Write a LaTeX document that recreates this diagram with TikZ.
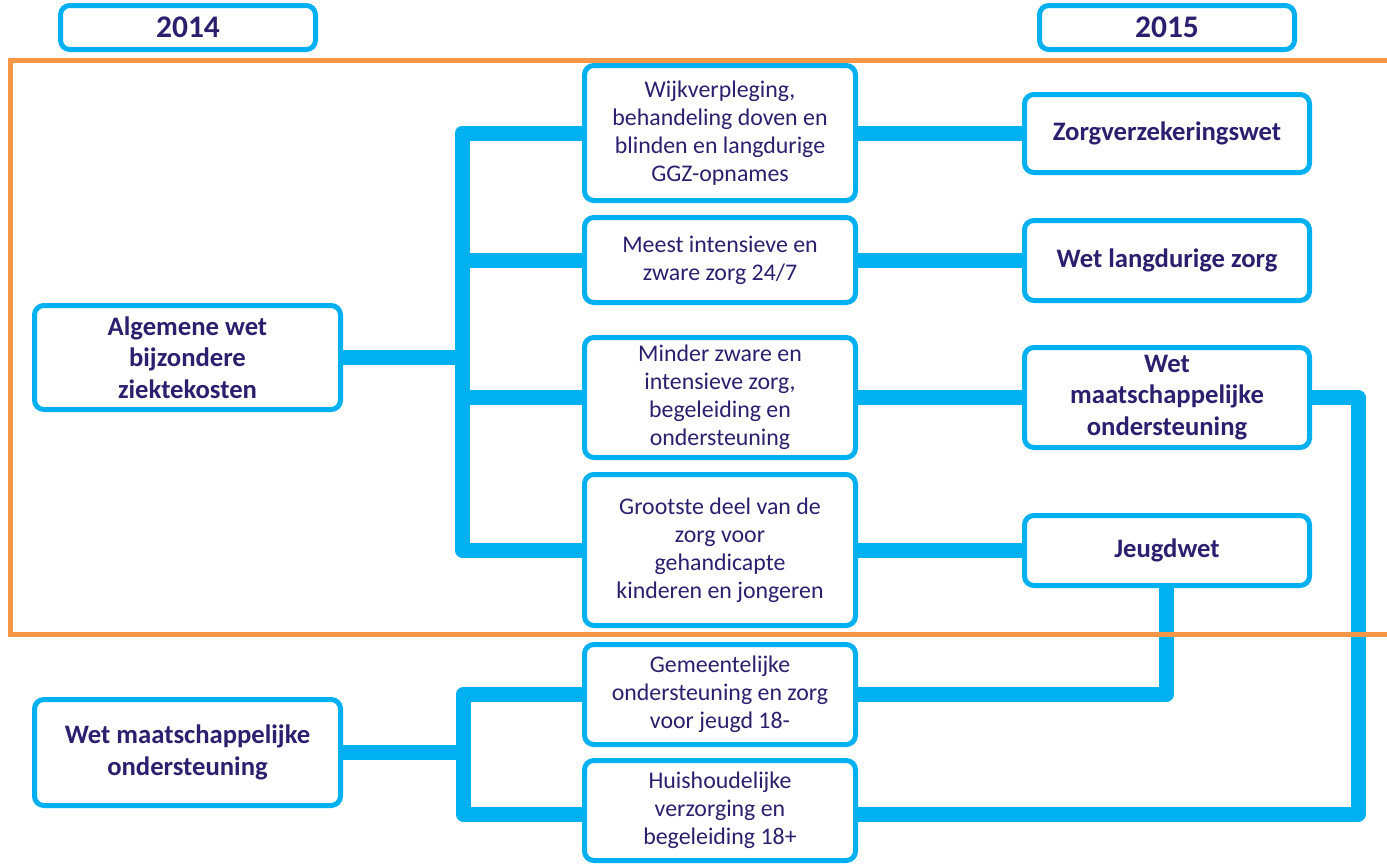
\documentclass[tikz,border=0pt]{standalone}
\usepackage{fontspec}
\setmainfont{Carlito}
\definecolor{cyanb}{RGB}{0,176,240}
\definecolor{navy}{RGB}{43,31,110}
\definecolor{orangeb}{RGB}{247,150,70}
\pgfdeclarelayer{background}
\pgfsetlayers{background,main}
\begin{document}
\begin{tikzpicture}[x=0.75pt,y=-0.75pt,
  box/.style={draw=cyanb, line width=3.75pt, rounded corners=7pt, fill=white, align=center, inner sep=0pt, text=navy},
  bodybox/.style={box, font=\fontsize{17.9}{21}\selectfont},
  boldbox/.style={box, font=\bfseries\fontsize{20}{23.75}\selectfont},
  yearbox/.style={box, font=\bfseries\fontsize{23.6}{27}\selectfont, minimum width=191.25pt, minimum height=33pt},
  midbox/.style={bodybox, minimum width=203.25pt},
  rightbox/.style={boldbox, minimum width=213.75pt},
  leftbox/.style={boldbox, minimum width=229.5pt},
  conn/.style={draw=cyanb, line width=11.25pt, line join=round},
  frame/.style={draw=orangeb, line width=3.75pt}]
\useasboundingbox (0,0) rectangle (1387,865);

% coordinates for trunks and frame
\coordinate (tA) at (462,133);
\coordinate (tB) at (462,550);
\coordinate (uA) at (463,694.5);
\coordinate (uB) at (463,814);
\coordinate (rB) at (1358,814);
\coordinate (jB) at (1166,694.5);
\coordinate (fTR) at (1387,60);
\coordinate (fTL) at (10,60);
\coordinate (fBL) at (10,634);
\coordinate (fBR) at (1387,634);

% nodes
\node[yearbox] (y14) at (188,27.5) {2014};
\node[yearbox] (y15) at (1167,27.5) {2015};

\node[leftbox, minimum height=78pt] (alg) at (187.5,357.5) {Algemene wet\\bijzondere\\ziektekosten};
\node[leftbox, minimum height=79.5pt] (wmo14) at (187.5,752.5) {Wet maatschappelijke\\ondersteuning};

\node[midbox, minimum height=101.25pt] (m1) at (720,133) {Wijkverpleging,\\behandeling doven en\\blinden en langdurige\\GGZ-opnames};
\node[midbox, minimum height=63.75pt] (m2) at (720,260) {Meest intensieve en\\zware zorg 24/7};
\node[midbox, minimum height=90pt] (m3) at (720,397.5) {Minder zware en\\intensieve zorg,\\begeleiding en\\ondersteuning};
\node[midbox, minimum height=113.25pt] (m4) at (720,550) {Grootste deel van de\\zorg voor\\gehandicapte\\kinderen en jongeren};
\node[midbox, minimum height=75pt] (m5) at (720,694.5) {Gemeentelijke\\ondersteuning en zorg\\voor jeugd 18-};
\node[midbox, minimum height=75pt] (m6) at (720,810.5) {Huishoudelijke\\verzorging en\\begeleiding 18+};

\node[rightbox, minimum height=58.5pt] (r1) at (1167,133.5) {Zorgverzekeringswet};
\node[rightbox, minimum height=60pt] (r2) at (1167,260.5) {Wet langdurige zorg};
\node[rightbox, minimum height=75pt] (r3) at (1167,397.5) {Wet\\maatschappelijke\\ondersteuning};
\node[rightbox, minimum height=52.5pt] (r4) at (1167,550.5) {Jeugdwet};

% connectors behind the boxes
\begin{pgfonlayer}{background}
  \draw[conn] (m1.west) -- (tA) -- (tB) -- (m4.west);
  \draw[conn] (m2.west) -- (m2.west -| tA);
  \draw[conn] (m3.west) -- (m3.west -| tA);
  \draw[conn] (alg.east) -- (alg.east -| tA);
  \draw[conn] (m1.east) -- (r1.west |- m1.east);
  \draw[conn] (m2.east) -- (r2.west |- m2.east);
  \draw[conn] (m3.east) -- (r3.west);
  \draw[conn] (m4.east) -- (r4.west |- m4.east);
  \draw[conn] (r3.east) -- (r3.east -| rB) -- (rB) -- (m6.east |- rB);
  \draw[conn] (r4.south -| jB) -- (jB) -- (m5.east |- jB);
  \draw[conn] (m5.west) -- (uA) -- (uB) -- (m6.west |- uB);
  \draw[conn] (wmo14.east) -- (wmo14.east -| uA);
  \draw[frame] (fTR) -- (fTL) -- (fBL) -- (fBR);
\end{pgfonlayer}
\end{tikzpicture}
\end{document}
